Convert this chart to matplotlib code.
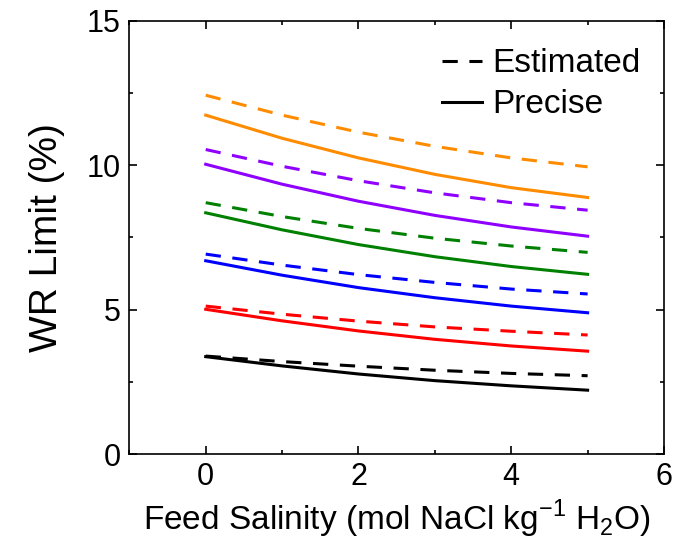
import numpy as np
import matplotlib.pyplot as plt
from matplotlib.ticker import MultipleLocator

plt.rcParams['font.family'] = ['Liberation Sans', 'DejaVu Sans']

# feed salinity (mol NaCl / kg H2O)
salinity = [0, 1, 2, 3, 4, 5]

# WR limit (%), estimated (dashed) and precise (solid) for each case
est_black = [3.39, 3.20, 3.04, 2.90, 2.79, 2.71]
pre_black = [3.37, 3.05, 2.77, 2.54, 2.36, 2.21]
est_red = [5.12, 4.84, 4.60, 4.40, 4.25, 4.12]
pre_red = [5.01, 4.61, 4.26, 3.97, 3.74, 3.56]
est_blue = [6.92, 6.54, 6.21, 5.94, 5.71, 5.54]
pre_blue = [6.69, 6.19, 5.76, 5.41, 5.12, 4.89]
est_green = [8.70, 8.22, 7.81, 7.47, 7.20, 6.98]
pre_green = [8.35, 7.76, 7.25, 6.83, 6.49, 6.22]
est_purple = [10.54, 9.96, 9.46, 9.04, 8.70, 8.44]
pre_purple = [10.03, 9.34, 8.75, 8.26, 7.86, 7.54]
est_orange = [12.42, 11.73, 11.14, 10.65, 10.25, 9.94]
pre_orange = [11.73, 10.93, 10.25, 9.68, 9.22, 8.88]

colors = ['black', '#ff0000', '#0000ff', '#008000', '#8f00ff', '#ff8c00']
estimated = [est_black, est_red, est_blue, est_green, est_purple, est_orange]
precise = [pre_black, pre_red, pre_blue, pre_green, pre_purple, pre_orange]

fig = plt.figure(figsize=(6.75, 5.44), dpi=100)
ax = fig.add_axes([0.1916, 0.1654, 0.7921, 0.7966])

lw = 2.2
dash = (5, 3.8)
for c, e, p in zip(colors, estimated, precise):
    ax.plot(salinity, e, color=c, lw=lw, dashes=dash)
    ax.plot(salinity, p, color=c, lw=lw)

# legend handles
ax.plot([], [], color='black', lw=lw, dashes=dash, label='Estimated')
ax.plot([], [], color='black', lw=lw, label='Precise')
ax.legend(loc='upper right', frameon=False, fontsize=24, handlelength=1.2,
          handletextpad=0.3, labelspacing=0.3, borderaxespad=0.3,
          bbox_to_anchor=(1.0, 0.99))

ax.set_xlim(-1, 6)
ax.set_ylim(0, 15)
ax.xaxis.set_major_locator(MultipleLocator(2))
ax.xaxis.set_minor_locator(MultipleLocator(1))
ax.yaxis.set_major_locator(MultipleLocator(5))
ax.yaxis.set_minor_locator(MultipleLocator(2.5))
ax.tick_params(which='both', direction='in', top=True, right=True,
               labelsize=22, width=1.2, pad=6)
ax.tick_params(which='major', length=6)
ax.tick_params(which='minor', length=3)
for s in ax.spines.values():
    s.set_linewidth(1.2)

ax.set_xlabel('Feed Salinity (mol NaCl kg$^{\\mathregular{-1}}$ H$_{\\mathregular{2}}$O)',
              fontsize=24, labelpad=4)
ax.set_ylabel('WR Limit (%)', fontsize=28, labelpad=16)

fig.savefig('out.png', dpi=100)
